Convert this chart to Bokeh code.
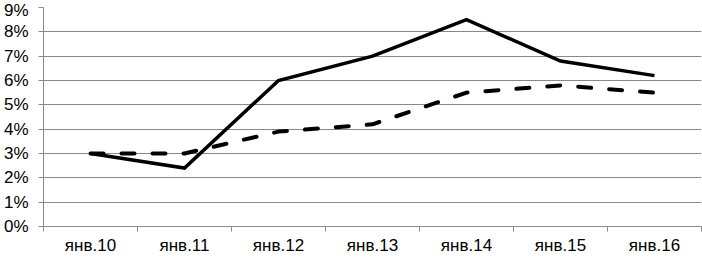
from bokeh.plotting import figure
from bokeh.models import Range1d, FixedTicker, NumeralTickFormatter
from bokeh.embed import file_html
from bokeh.resources import INLINE

categories = ["янв.10", "янв.11", "янв.12", "янв.13", "янв.14", "янв.15", "янв.16"]
solid_values = [0.030, 0.024, 0.060, 0.070, 0.085, 0.068, 0.062]
dashed_values = [0.030, 0.030, 0.039, 0.042, 0.055, 0.058, 0.055]
y_ticks = [0.00, 0.01, 0.02, 0.03, 0.04, 0.05, 0.06, 0.07, 0.08, 0.09]

FONT = "Liberation Sans"
GRID = "#898989"

n = len(categories)
centres = [i + 0.5 for i in range(n)]     # category slot centres on a 0..n scale

p = figure(width=702, height=257, output_backend="svg", toolbar_location=None,
           x_range=Range1d(0, n), y_range=Range1d(0, 0.09))
p.min_border_left = 43
p.min_border_right = 1
p.min_border_top = 7
p.min_border_bottom = 29
p.outline_line_color = None
p.background_fill_color = "white"
p.border_fill_color = "white"

# x axis: labels at category centres, ticks at category boundaries
xaxis = p.xaxis[0]
xaxis.ticker = FixedTicker(ticks=centres, minor_ticks=list(range(n + 1)))
xaxis.major_label_overrides = {c: lab for c, lab in zip(centres, categories)}
xaxis.major_tick_out = 0
xaxis.major_tick_in = 0
xaxis.minor_tick_out = 5
xaxis.minor_tick_in = 0
xaxis.minor_tick_line_color = GRID
xaxis.axis_line_color = GRID
xaxis.major_label_text_font = FONT
xaxis.major_label_text_font_size = "17px"
xaxis.major_label_text_color = "black"
xaxis.major_label_standoff = 4

ya = p.yaxis[0]
ya.ticker = FixedTicker(ticks=y_ticks)
ya.formatter = NumeralTickFormatter(format="0%")
ya.major_tick_out = 5
ya.major_tick_in = 0
ya.minor_tick_line_color = None
ya.major_tick_line_color = GRID
ya.axis_line_color = GRID
ya.major_label_text_font = FONT
ya.major_label_text_font_size = "17px"
ya.major_label_text_color = "black"
ya.major_label_standoff = 10

p.xgrid.visible = False
p.ygrid.ticker = FixedTicker(ticks=y_ticks)
p.ygrid.grid_line_color = GRID
p.ygrid.grid_line_width = 1

p.line(centres, solid_values, line_color="black", line_width=3.5, line_join="miter")
p.line(centres, dashed_values, line_color="black", line_width=4,
       line_dash="13 18", line_cap="round")

open("out.html", "w").write(file_html(p, INLINE))
